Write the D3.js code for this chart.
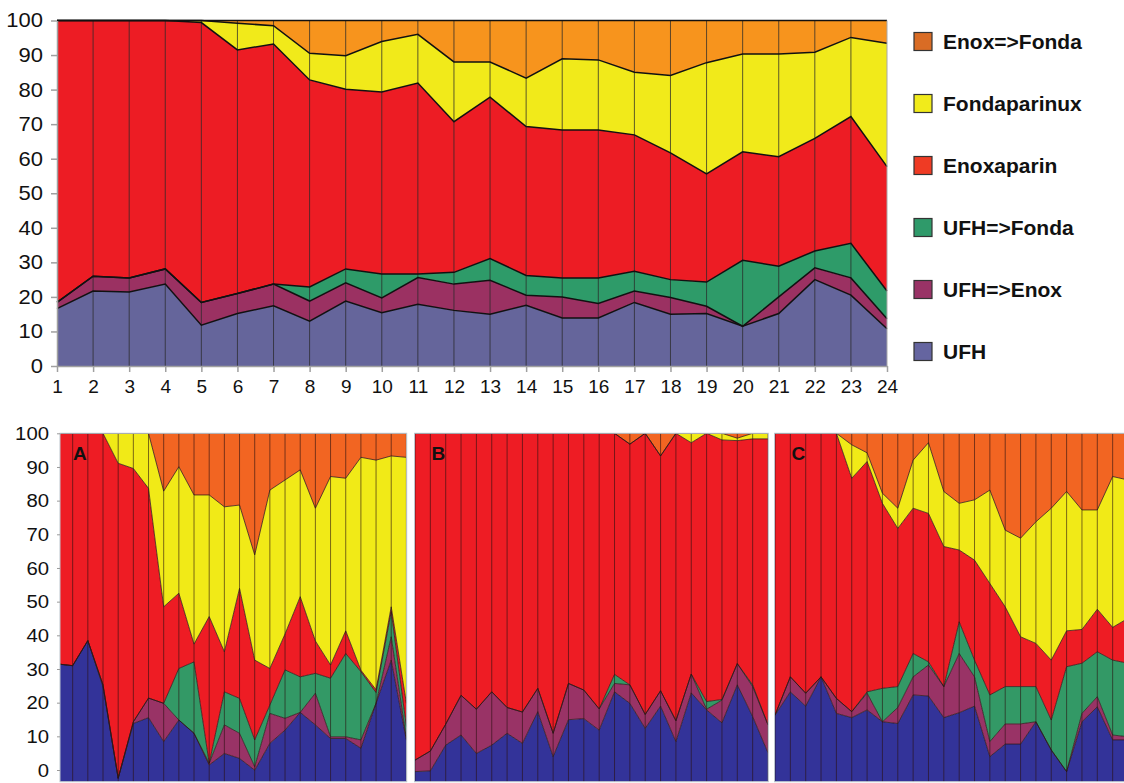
<!DOCTYPE html>
<html>
<head>
<meta charset="utf-8">
<script src="https://cdn.jsdelivr.net/npm/d3@7"></script>
<style>
  body { margin: 0; background: #fff; }
  svg { display: block; font-family: "Liberation Sans", Arial, sans-serif; }
</style>
</head>
<body>
<svg id="chart" width="1124" height="783"></svg>
<script>
// weeks / categories
const weeks = d3.range(1, 25)
const keys = ["ufh", "ufhEnox", "ufhFonda", "enox", "fonda", "enoxFonda"]
const legendNames = ["UFH", "UFH=>Enox", "UFH=>Fonda", "Enoxaparin", "Fondaparinux", "Enox=>Fonda"]
const yTicks = d3.range(0, 101, 10)
const panelNames = ["A", "B", "C"]

// overall chart (% of patients)
const topUfh       = [16.6,21.7,21.4,23.7,11.8,15.2,17.4,13.0,18.8,15.4,17.9,16.1,15.0,17.6,13.9,13.9,18.4,15.0,15.2,11.5,15.2,25.0,20.5,10.8]
const topUfhEnox   = [1.8,4.3,4.1,4.4,6.6,5.8,6.3,5.8,5.3,4.3,7.7,7.6,9.8,2.9,6.1,4.2,3.3,4.8,2.1,0,4.8,3.4,5.0,2.9]
const topUfhFonda  = [0,0,0,0,0,0,0,4.1,4.0,6.9,1.0,3.4,6.3,5.7,5.5,7.4,5.7,5.2,7.0,19.1,8.9,4.9,10.0,8.0]
const topEnox      = [81.6,74.0,74.5,71.9,81.0,70.5,69.5,59.9,52.0,52.7,55.3,43.6,46.7,43.1,42.8,42.8,39.5,36.7,31.3,31.4,31.7,32.6,36.7,36.0]
const topFonda     = [0,0,0,0,0.6,7.7,5.3,7.7,9.7,14.6,14.1,17.3,10.2,14.0,20.6,20.3,18.1,22.4,32.2,28.3,29.7,24.9,22.9,35.7]
const topEnoxFonda = [0,0,0,0,0,0.8,1.5,9.5,10.2,6.1,4.0,12.0,12.0,16.7,11.1,11.4,15.0,15.9,12.2,9.7,9.7,9.2,4.9,6.6]

// panel A
const aUfh       = [33.8,33.3,40.5,27.3,1.0,16.7,18.4,11.5,17.7,13.9,4.8,8.1,6.7,3.3,11.0,14.8,19.9,16.3,12.4,12.4,9.6,22.5,34.9,11.9]
const aUfhEnox   = [0,0,0,0.5,0,0.5,5.6,11.0,0,0,0.5,8.2,7.2,1.0,8.6,3.4,0,9.1,0.5,0.5,2.4,0,6.7,0.5]
const aUfhFonda  = [0,0,0,0,0,0,0,0,14.8,20.5,0,9.5,10.0,7.7,2.4,13.9,10.2,5.7,16.8,23.9,19.6,3.1,7.2,3.4]
const aEnox      = [66.2,66.7,59.5,72.2,90.4,72.7,60.2,27.7,21.6,5.1,42.1,11.5,31.6,22.9,10.5,10.3,23.0,9.3,3.8,6.5,0.4,0.8,1.4,6.7]
const aFonda     = [0,0,0,0,8.6,10.1,15.8,33.2,36.3,42.8,34.9,41.6,23.9,30.2,51.2,44.2,36.4,38.1,54.1,43.8,61.1,65.9,43.3,70.6]
const aEnoxFonda = [0,0,0,0,0,0,0,16.6,9.6,17.7,17.7,21.1,20.6,34.9,16.3,13.4,10.5,21.5,12.4,12.9,6.9,7.7,6.5,6.9]

// panel B
const bUfh       = [2.9,3.1,10.5,13.4,8.1,10.5,13.9,11.0,20.1,7.2,17.8,18.1,14.8,25.8,22.5,15.3,21.7,11.5,25.5,20.6,16.9,27.8,18.7,8.3]
const bUfhEnox   = [3.3,5.7,6.0,11.4,12.7,15.3,7.4,9.0,6.7,6.7,10.4,8.2,6.1,2.4,5.3,4.0,4.4,6.0,5.4,0.2,6.5,6.1,8.6,8.0]
const bUfhFonda  = [0,0,0,0,0,0,0,0,0,0,0,0,0,2.6,0,0,0,0,0,2.2,0.2,0,0.5,0]
const bEnox      = [93.8,91.2,83.5,75.2,79.2,74.2,78.7,80.0,73.2,86.1,71.8,73.7,79.1,69.2,69.1,80.7,67.4,82.5,66.4,77.0,74.5,64.0,70.6,82.1]
const bFonda     = [0,0,0,0,0,0,0,0,0,0,0,0,0,0,0,0,0,0,2.7,0,1.9,0.7,1.6,1.6]
const bEnoxFonda = [0,0,0,0,0,0,0,0,0,0,0,0,0,0,3.1,0,6.5,0,0,0,0,1.4,0,0]

// panel C
const cUfh       = [19.1,25.8,21.7,30.1,19.6,18.4,20.6,17.2,16.7,24.9,24.6,18.4,19.8,21.7,7.2,10.8,10.8,17.2,9.1,2.9,17.2,21.5,12.0,12.0]
const cUfhEnox   = [0,4.3,3.7,0,4.3,1.7,4.8,0,4.6,5.2,8.9,8.9,17.0,8.4,4.3,5.8,5.8,0,0,0,2.4,2.9,1.4,0.9]
const cUfhFonda  = [0,0,0,0,0,0,0.4,9.6,6.0,6.7,0.9,0,9.1,4.8,13.4,10.7,10.7,10.1,8.6,30.1,14.4,12.9,21.5,21.1]
const cEnox      = [80.9,69.9,74.6,69.9,76.1,67.0,66.1,53.1,45.4,41.7,42.6,40.2,20.6,28.7,32.0,22.9,14.3,12.4,17.2,10.3,9.7,12.2,9.4,12.9]
const cFonda     = [0,0,0,0,0,9.6,2.5,2.9,5.8,13.8,20.3,15.8,13.4,17.3,26.8,22.0,28.3,34.9,43.6,40.0,34.3,28.5,43.3,39.7]
const cEnoxFonda = [0,0,0,0,0,3.3,5.6,17.2,21.5,7.7,2.7,16.7,20.1,19.1,16.3,27.8,30.1,25.4,21.5,16.7,22.0,22.0,12.4,13.4]

const topColors = ["#65659b", "#9b3162", "#2e9b69", "#ed1c24", "#f1ea1a", "#f7941d"]
const panelColors = ["#333399", "#993366", "#339966", "#ee1c24", "#f1ea17", "#f26522"]
const legendColors = ["#6565a0", "#993366", "#2f9a6a", "#ef3b24", "#f1eb1b", "#d96c25"]

// build rows {week, ufh, ...} from a list of series
const rows = function(series) {
  return weeks.map((w, i) => {
    const r = {i: i, week: w}
    keys.forEach((k, j) => { r[k] = series[j][i] })
    return r
  })
}
const stack = d3.stack().keys(keys)

const svg = d3.select("#chart")

// ---------- top chart ----------
const xTop = d3.scaleLinear().domain([1, 24]).range([57, 887])
const yTop = d3.scaleLinear().domain([0, 100]).range([366, 20.5])

const topStacked = stack(rows([topUfh, topUfhEnox, topUfhFonda, topEnox, topFonda, topEnoxFonda]))
const gTop = svg.append("g")

gTop.selectAll("path.area")
  .data(topStacked)
  .enter().append("path")
  .attr("class", "area")
  .attr("fill", (d, i) => topColors[i])
  .attr("d", d3.area()
    .x(d => xTop(d.data.week))
    .y0(d => yTop(d[0]))
    .y1(d => yTop(d[1])))

// vertical week lines
gTop.selectAll("line.v")
  .data(weeks.slice(1, 23))
  .enter().append("line")
  .attr("x1", d => xTop(d)).attr("x2", d => xTop(d))
  .attr("y1", yTop(0)).attr("y2", yTop(100))
  .attr("stroke", "#2a2a2a")
  .attr("stroke-opacity", 0.75)

// upper edge of every layer
gTop.selectAll("path.edge")
  .data(topStacked)
  .enter().append("path")
  .attr("fill", "none")
  .attr("stroke", "#111")
  .attr("stroke-width", 1.5)
  .attr("d", d3.line().x(d => xTop(d.data.week)).y(d => yTop(d[1])))

gTop.append("line")
  .attr("x1", xTop(24)).attr("x2", xTop(24))
  .attr("y1", yTop(0)).attr("y2", yTop(100))
  .attr("stroke", "#a8a8a8")

const yAxTop = gTop.append("g")
  .attr("transform", "translate(" + xTop(1) + ",0)")
  .call(d3.axisLeft(yTop).tickValues(yTicks).tickSize(6).tickSizeOuter(0))
yAxTop.selectAll("text")
  .attr("font-size", "20px")
  .attr("fill", "#111")
  .attr("x", -14 / 1.1)
  .attr("transform", "scale(1.1,1)")

const xAxTop = gTop.append("g")
  .attr("transform", "translate(0," + yTop(0) + ")")
  .call(d3.axisBottom(xTop).tickValues(weeks).tickSize(6).tickPadding(8).tickSizeOuter(0))
xAxTop.selectAll("text")
  .attr("font-size", "19px")
  .attr("fill", "#111")

gTop.selectAll(".domain, .tick line").attr("stroke", "#a0a0a0").attr("stroke-width", 1.5)

// legend
const legend = svg.append("g")
  .selectAll("g")
  .data(d3.range(6).reverse())
  .enter().append("g")
  .attr("transform", (d, i) => "translate(914," + (41.5 + i * 62) + ")")

legend.append("rect")
  .attr("x", 0).attr("y", -9)
  .attr("width", 18).attr("height", 18)
  .attr("fill", d => legendColors[d])
  .attr("stroke", "#333")
  .attr("stroke-width", 1.2)

legend.append("text")
  .attr("x", 29 / 1.05)
  .attr("dy", "0.36em")
  .attr("transform", "scale(1.05,1)")
  .attr("font-size", "20px")
  .attr("font-weight", "bold")
  .attr("fill", "#111")
  .text(d => legendNames[d])

// ---------- bottom panels ----------
const yPanel = d3.scaleLinear().domain([0, 100]).range([781.7, 433.3])
const yPanelAxis = d3.scaleLinear().domain([0, 100]).range([770, 433.3])

const panelSeries = [
  [aUfh, aUfhEnox, aUfhFonda, aEnox, aFonda, aEnoxFonda],
  [bUfh, bUfhEnox, bUfhFonda, bEnox, bFonda, bEnoxFonda],
  [cUfh, cUfhEnox, cUfhFonda, cEnox, cFonda, cEnoxFonda]
]
// first / last week position and visible box of each panel
const panelBox = [
  {first: 57.5, last: 406.4, left: 60, right: 406.7},
  {first: 415, last: 768, left: 414.5, right: 768.3},
  {first: 775, last: 1128, left: 774.5, right: 1129}
]

panelSeries.forEach((series, p) => {
  const box = panelBox[p]
  const x = d3.scaleLinear().domain([1, 24]).range([box.first, box.last])
  const stacked = stack(rows(series))

  svg.append("clipPath").attr("id", "clip" + p)
    .append("rect")
    .attr("x", box.left).attr("y", yPanel(100))
    .attr("width", box.right - box.left).attr("height", yPanel(0) - yPanel(100))

  const g = svg.append("g").attr("clip-path", "url(#clip" + p + ")")

  g.selectAll("path.area")
    .data(stacked)
    .enter().append("path")
    .attr("fill", (d, i) => panelColors[i])
    .attr("d", d3.area()
      .x(d => x(d.data.week))
      .y0(d => yPanel(d[0]))
      .y1(d => yPanel(d[1])))

  g.selectAll("line.v")
    .data(weeks)
    .enter().append("line")
    .attr("x1", d => x(d)).attr("x2", d => x(d))
    .attr("y1", yPanel(0)).attr("y2", yPanel(100))
    .attr("stroke", "#2a1010")
    .attr("stroke-opacity", 0.6)

  g.selectAll("path.edge")
    .data(stacked)
    .enter().append("path")
    .attr("fill", "none")
    .attr("stroke", "#2a1515")
    .attr("stroke-opacity", 0.75)
    .attr("stroke-width", 1)
    .attr("d", d3.line().x(d => x(d.data.week)).y(d => yPanel(d[1])))

  svg.append("rect")
    .attr("x", box.left).attr("y", yPanel(100))
    .attr("width", box.right - box.left).attr("height", yPanel(0) - yPanel(100))
    .attr("fill", "none")
    .attr("stroke", "#bcc6ce")

  svg.append("text")
    .attr("x", box.left + (p === 0 ? 13 : 17))
    .attr("y", 460)
    .attr("font-size", "19px")
    .attr("font-weight", "bold")
    .attr("fill", "#111")
    .text(panelNames[p])
})

const yAxPanel = svg.append("g")
  .attr("transform", "translate(60,0)")
  .call(d3.axisLeft(yPanelAxis).tickValues(yTicks).tickSize(3).tickSizeOuter(0))
yAxPanel.select(".domain").remove()
yAxPanel.selectAll(".tick line").attr("stroke", "#9a9a9a")
yAxPanel.selectAll("text")
  .attr("font-size", "19px")
  .attr("fill", "#111")
  .attr("x", -11 / 1.07)
  .attr("transform", "scale(1.07,1)")
</script>
</body>
</html>
